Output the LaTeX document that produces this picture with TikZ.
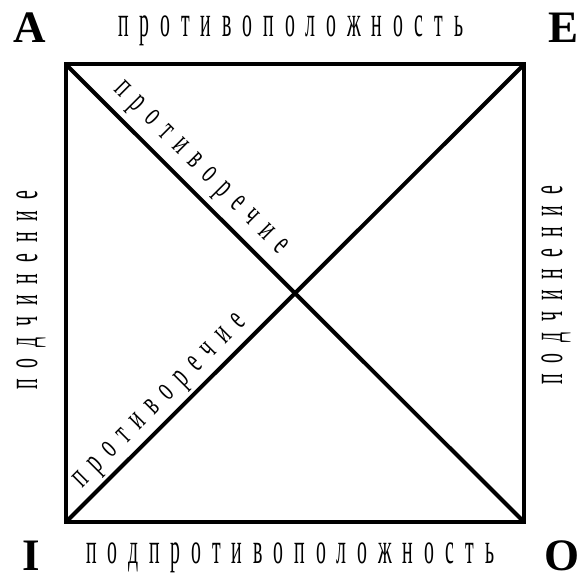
\documentclass[tikz,border=0pt]{standalone}
\usepackage{fontspec}
\setmainfont{Liberation Serif}
\newfontfamily\widecyr[FakeStretch=0.45,LetterSpace=25]{Liberation Serif}
\newfontfamily\diagcyr[FakeStretch=0.57,LetterSpace=30]{Liberation Serif}

\begin{document}
\begin{tikzpicture}[x=1pt,y=1pt]
    \tikzstyle{edge}=[line width=4pt]
    \tikzstyle{corner}=[inner sep=0pt,font=\fontsize{45}{45}\selectfont\bfseries]
    \tikzstyle{rel}=[inner sep=0pt,anchor=base west,font=\widecyr\fontsize{44}{44}\selectfont]
    \tikzstyle{diag}=[inner sep=0pt,anchor=base west,font=\diagcyr\fontsize{35}{35}\selectfont]
    \useasboundingbox (0,0) rectangle (577,574);
    % Square corners
    \coordinate (a) at (66,509.5);
    \coordinate (e) at (524,509.5);
    \coordinate (i) at (66,52);
    \coordinate (o) at (524,52);
    % Square and diagonals
    \draw[edge] (a) -- (e) -- (o) -- (i) -- cycle;
    \draw[edge] (a) -- (o);
    \draw[edge] (i) -- (e);
    % Corner letters
    \node[corner,anchor=base] (la) at (30,531) {A};
    \node[corner,anchor=base west] (le) at (548,531) {E};
    \node[corner,anchor=base] (li) at (31,4) {I};
    \node[corner,anchor=base west] (lo) at (544,4) {O};
    % Relations
    \node[rel] (top) at (118,537) {противоположность};
    \node[rel] (bottom) at (86,11) {подпротивоположность};
    \node[rel,rotate=90] (left) at (37,184) {подчинение};
    \node[rel,rotate=90] (right) at (562,189) {подчинение};
    \node[diag,rotate=-45] (upper) at (113.8,483.8) {противоречие};
    \node[diag,rotate=45] (lower) at (82.2,85.8) {противоречие};
\end{tikzpicture}
\end{document}
